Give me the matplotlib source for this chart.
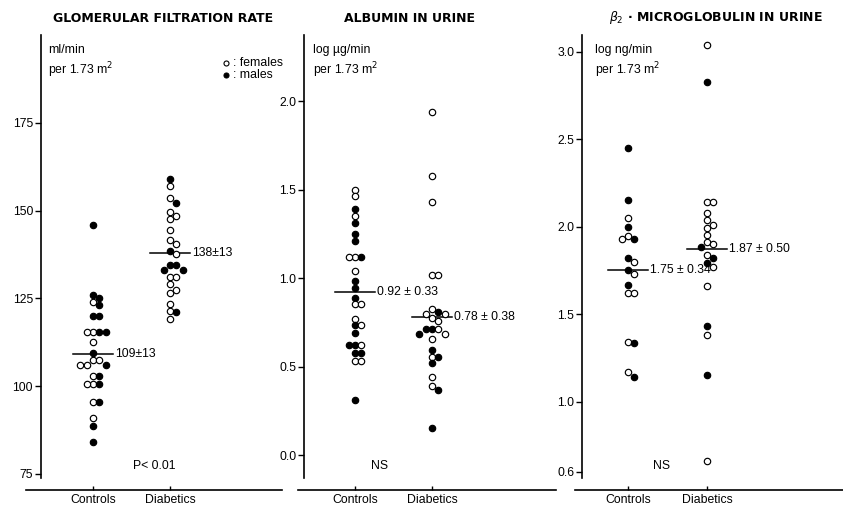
import matplotlib
matplotlib.use("Agg")
import matplotlib.pyplot as plt
from matplotlib.lines import Line2D
import numpy as np

plt.rcParams['font.family'] = ['Liberation Sans', 'DejaVu Sans']

groups = ["Controls", "Diabetics"]

# Glomerular filtration rate (ml/min per 1.73 m2)
gfr_ctrl = [146, 126, 125, 124, 123, 120, 120, 115.5, 115.5, 115.5, 115.5, 112.5, 109.5,
            107.5, 107.5, 106, 106, 106, 103, 103, 100.5, 100.5, 100.5, 95.5, 95.5, 91, 88.5, 84]
gfr_ctrl_sex = list("mmmfmmmfmfmfmfffmffmfmffmfmm")
gfr_diab = [159, 157, 153.5, 152, 149.5, 148.5, 147.5, 144.5, 141.5, 140.5, 138.5, 137.5,
            134.5, 134.5, 133, 133, 131, 131, 129, 127.5, 126.5, 123.5, 121.5, 121, 119]
gfr_diab_sex = list("mffmffffffmfmmmmfffffffmf")
gfr_means = [109, 138]
gfr_labels = ["109\u00b113", "138\u00b113"]

# Albumin in urine (log ug/min per 1.73 m2)
alb_ctrl = [1.50, 1.465, 1.39, 1.35, 1.31, 1.25, 1.21, 1.12, 1.12, 1.12, 1.04, 0.985, 0.945,
            0.89, 0.855, 0.855, 0.77, 0.735, 0.735, 0.69, 0.62, 0.62, 0.62, 0.58, 0.58, 0.53, 0.53, 0.31]
alb_ctrl_sex = list("ffmfmmmfmffmmmfffmfmmfmmmffm")
alb_diab = [1.94, 1.58, 1.43, 1.02, 1.02, 0.825, 0.81, 0.80, 0.80, 0.775, 0.76, 0.715, 0.715,
            0.715, 0.685, 0.685, 0.655, 0.595, 0.555, 0.555, 0.52, 0.44, 0.39, 0.37, 0.155]
alb_diab_sex = list("ffffffmffffmfmfmfmfmmffmm")
alb_means = [0.92, 0.78]
alb_labels = ["0.92 \u00b1 0.33", "0.78 \u00b1 0.38"]

# beta2-microglobulin in urine (log ng/min per 1.73 m2)
b2m_ctrl = [2.45, 2.15, 2.05, 2.0, 1.945, 1.93, 1.93, 1.82, 1.80, 1.75, 1.73, 1.665, 1.62, 1.62,
            1.34, 1.335, 1.17, 1.14]
b2m_ctrl_sex = list("mmfmfmfmfmfmfffmfm")
b2m_diab = [3.04, 2.825, 2.14, 2.14, 2.08, 2.04, 2.01, 1.99, 1.95, 1.91, 1.90, 1.885, 1.84,
            1.82, 1.79, 1.77, 1.66, 1.43, 1.38, 1.15, 0.664]
b2m_diab_sex = list("fmfffffffffmfmmffmfmf")
b2m_means = [1.75, 1.87]
b2m_labels = ["1.75 \u00b1 0.34", "1.87 \u00b1 0.50"]

W, H = 843, 508
fig = plt.figure(figsize=(W / 100, H / 100), dpi=100)

def px_axes(left, right, top, bottom):
    return fig.add_axes([left / W, 1 - bottom / H, (right - left) / W, (bottom - top) / H])

panels = [
    dict(box=(26, 282), spine=40.7, cats=(93, 170), ycal=(175, 122.7, 3.512),
         yticks=[75, 100, 125, 150, 175], ytl=["75", "100", "125", "150", "175"],
         data=[(gfr_ctrl, gfr_ctrl_sex), (gfr_diab, gfr_diab_sex)], means=gfr_means, mlabels=gfr_labels,
         title="GLOMERULAR FILTRATION RATE", title_x=163, unit="ml/min", unit_x=48,
         note="P< 0.01", note_x=154),
    dict(box=(298, 556), spine=304, cats=(355, 432), ycal=(1.0, 278.3, 176.8),
         yticks=[0.0, 0.5, 1.0, 1.5, 2.0], ytl=["0.0", "0.5", "1.0", "1.5", "2.0"],
         data=[(alb_ctrl, alb_ctrl_sex), (alb_diab, alb_diab_sex)], means=alb_means, mlabels=alb_labels,
         title="ALBUMIN IN URINE", title_x=410, unit="log \u00b5g/min", unit_x=313,
         note="NS", note_x=380),
    dict(box=(575, 843), spine=582, cats=(628, 707), ycal=(3.0, 51.7, 175.0),
         yticks=[0.6, 1.0, 1.5, 2.0, 2.5, 3.0], ytl=["0.6", "1.0", "1.5", "2.0", "2.5", "3.0"],
         data=[(b2m_ctrl, b2m_ctrl_sex), (b2m_diab, b2m_diab_sex)], means=b2m_means, mlabels=b2m_labels,
         title=r"$\beta_2$" + " \u00b7 MICROGLOBULIN IN URINE", title_x=716, unit="log ng/min", unit_x=595,
         note="NS", note_x=662),
]

TOP, BOT = 35, 490
SPINE_BOT = 478
DIAM = 6.8
FS = 8.8

def swarm(values, ppu):
    placed = []
    offs = []
    cands = [0]
    for i in range(1, 8):
        cands += [i * DIAM * 0.95, -i * DIAM * 0.95]
    for v in values:
        yp = v * ppu
        chosen = cands[-1]
        for c in cands:
            if all((c - ox) ** 2 + (yp - oy) ** 2 >= (DIAM * 0.9) ** 2 for ox, oy in placed):
                chosen = c
                break
        placed.append((chosen, yp))
        offs.append(chosen)
    return offs

for p in panels:
    left, right = p["box"]
    c1, c2 = p["cats"]
    unit = c2 - c1
    ax = px_axes(left, right, TOP, BOT)
    ax.set_xlim(1 - (c1 - left) / unit, 1 + (right - c1) / unit)
    v0, y0, ppu = p["ycal"]
    ytop = v0 + (y0 - TOP) / ppu
    ybot = v0 - (BOT - y0) / ppu
    ax.set_ylim(ybot, ytop)
    ax.patch.set_visible(False)
    for s in ["top", "right"]:
        ax.spines[s].set_visible(False)
    ax.spines["left"].set_position(("axes", (p["spine"] - left) / (right - left)))
    ax.spines["left"].set_bounds(v0 - (SPINE_BOT - y0) / ppu, ytop)
    ax.spines["left"].set_linewidth(1.2)
    ax.spines["bottom"].set_linewidth(1.2)
    ax.set_yticks(p["yticks"])
    ax.set_yticklabels(p["ytl"], fontsize=FS)
    ax.tick_params(axis="y", direction="out", length=4, width=1, pad=1.5)
    ax.set_xticks([1, 2])
    ax.set_xticklabels(groups, fontsize=FS)
    ax.tick_params(axis="x", direction="in", length=3, width=1, pad=3)

    for gi, (vals, sexes) in enumerate(p["data"]):
        offs = swarm(vals, ppu)
        xs = [gi + 1 + o / unit for o in offs]
        for x, v, s in zip(xs, vals, sexes):
            ax.plot(x, v, "o", ms=4.6, mec="black", mew=0.85,
                    mfc="black" if s == "m" else "white", zorder=3)
        m = p["means"][gi]
        ax.plot([gi + 1 - 20 / unit, gi + 1 + 20 / unit], [m, m], color="black", lw=1.1, zorder=2)
        ax.text(gi + 1 + 22 / unit, m, p["mlabels"][gi], fontsize=FS, va="center", ha="left")

    fig.text(p["title_x"] / W, 1 - 18 / H, p["title"], fontsize=9.0, ha="center", va="center",
             fontweight="bold", family="DejaVu Sans")
    fig.text(p["unit_x"] / W, 1 - 50 / H, p["unit"], fontsize=FS, ha="left", va="center")
    fig.text(p["unit_x"] / W, 1 - 70 / H, "per 1.73 m$^2$", fontsize=FS, ha="left", va="center")
    fig.text(p["note_x"] / W, 1 - 466 / H, p["note"], fontsize=FS, ha="center", va="center")

# legend
for (yy, fc, lab) in [(63, "white", ": females"), (75, "black", ": males")]:
    fig.add_artist(Line2D([226 / W], [1 - yy / H], transform=fig.transFigure, marker="o",
                          ms=3.6, mec="black", mew=0.8, mfc=fc, linestyle="none"))
    fig.text(233 / W, 1 - yy / H, lab, fontsize=FS, ha="left", va="center")

fig.savefig("out.png", dpi=100)
